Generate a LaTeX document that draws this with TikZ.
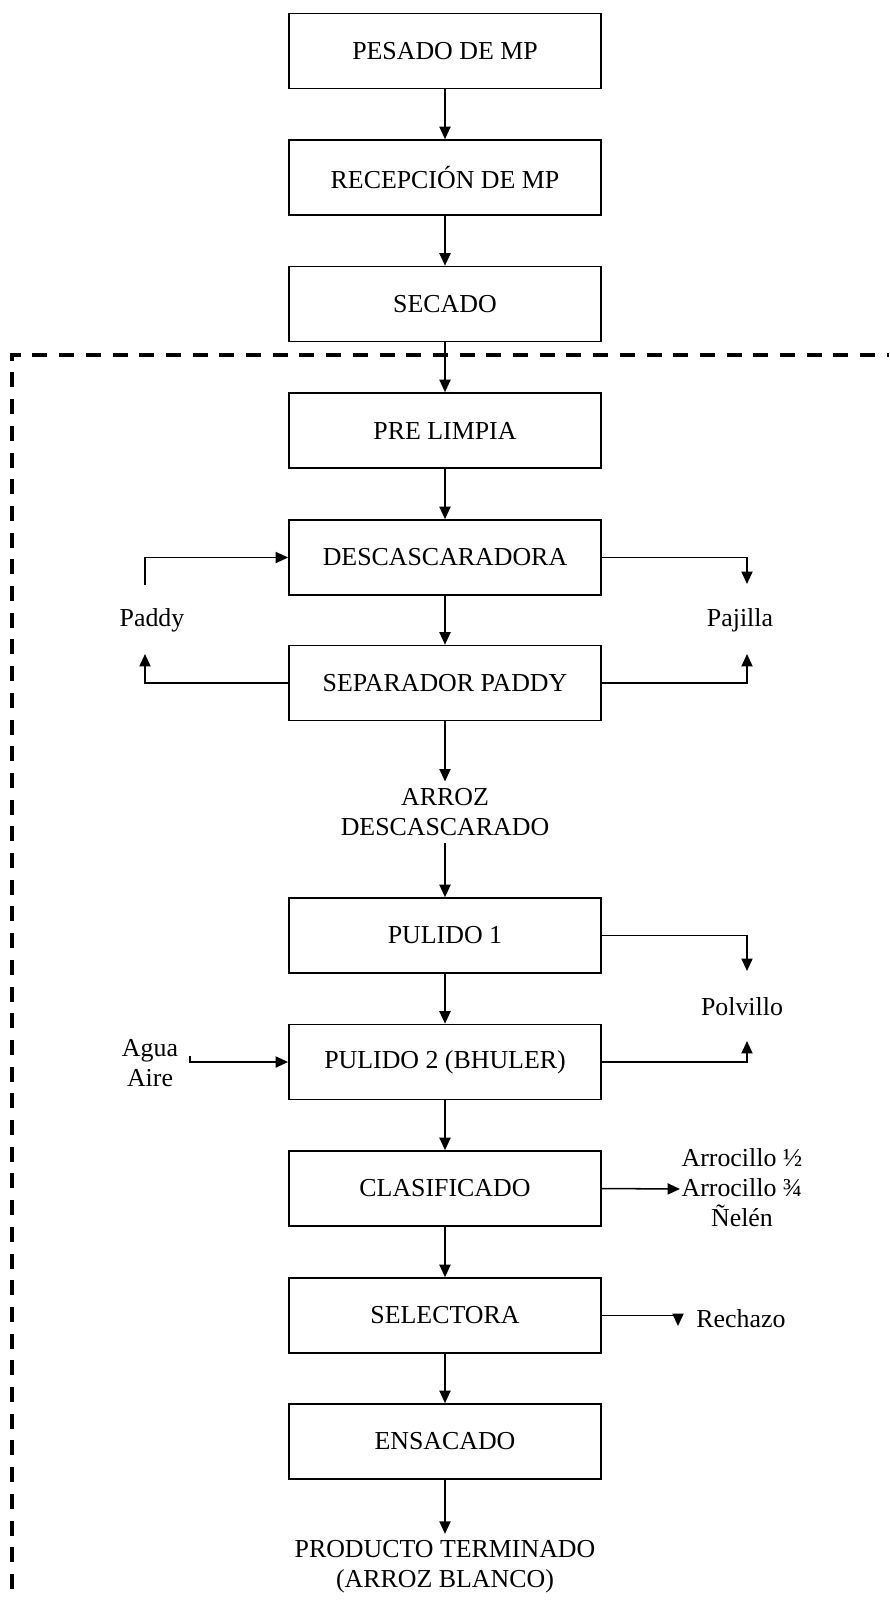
\documentclass[tikz,border=0pt]{standalone}
\usepackage{fontspec}
\setmainfont{Liberation Serif}
\usetikzlibrary{arrows.meta}
\begin{document}
\begin{tikzpicture}[x=0.5217pt,y=-0.5217pt,
  font=\fontsize{13.5}{15.7}\selectfont,
  proc/.style={draw,line width=0.9pt,minimum width=162.8pt,minimum height=39.1pt,inner sep=0pt},
  lbl/.style={align=center,inner sep=0pt},
  flowtxt/.style={align=center},
  flow/.style={line width=0.8pt,-{Triangle[length=6.5pt,width=5.8pt]}},
  boundary/.style={line width=1.7pt,dash pattern=on 7.83pt off 6.1pt}]
\useasboundingbox (0,0) rectangle (889,1600);

% process boundary (dashed corner)
\draw[boundary,dash phase=2.45pt] (10.4,355) -- (889,355);
\draw[boundary,dash phase=4.85pt] (12,355) -- (12,1600);

% main process steps
\node[proc] (pesado)  at (445,51)     {PESADO DE MP};
\node[proc] (recep)   at (445,177.5)  {RECEPCIÓN DE MP};
\node[proc] (secado)  at (445,304)    {SECADO};
\node[proc] (limpia)  at (445,430.5)  {PRE LIMPIA};
\node[proc] (desc)    at (445,557.5)  {DESCASCARADORA};
\node[proc] (sep)     at (445,683)    {SEPARADOR PADDY};
\node[flowtxt] (arroz) at (445,812)   {ARROZ\\DESCASCARADO};
\node[proc] (pul1)    at (445,935.5)  {PULIDO 1};
\node[proc] (pul2)    at (445,1062)   {PULIDO 2 (BHULER)};
\node[proc] (clas)    at (445,1188.5) {CLASIFICADO};
\node[proc] (selec)   at (445,1315.5) {SELECTORA};
\node[proc] (ensac)   at (445,1441.5) {ENSACADO};
\node[flowtxt] (prod) at (445,1567)   {PRODUCTO TERMINADO\\(ARROZ BLANCO)};

% side streams
\node[lbl] (paddy)   at (152,620)  {Paddy};
\node[lbl] (pajilla) at (740,620)  {Pajilla};
\node[lbl] (polv)    at (742,1007) {Polvillo};
\node[lbl] (agua)    at (150,1063) {Agua\\Aire};
\node[lbl] (arroc)   at (742,1188) {Arrocillo ½\\Arrocillo ¾\\Ñelén};
\node[lbl] (rech)    at (741,1319) {Rechazo};

\coordinate (paddyout) at (145,585);
\coordinate (paddyin)  at (145,654);
\coordinate (pajin1)   at (747,584);
\coordinate (pajin2)   at (747,654);
\coordinate (polin1)   at (747,971);
\coordinate (polin2)   at (747,1041);
\coordinate (aguaout)  at (190,1056);
\coordinate (arrocin)  at (680,1189);
\coordinate (rechin)   at (678,1326);

% main flow
\draw[flow] (pesado) -- (recep);
\draw[flow] (recep) -- (secado);
\draw[flow] (secado) -- (limpia);
\draw[flow] (limpia) -- (desc);
\draw[flow] (desc) -- (sep);
\draw[flow] (sep) -- (arroz);
\draw[flow] (arroz) -- (pul1);
\draw[flow] (pul1) -- (pul2);
\draw[flow] (pul2) -- (clas);
\draw[flow] (clas) -- (selec);
\draw[flow] (selec) -- (ensac);
\draw[flow] (ensac) -- (prod);

% recycle and by-products
\draw[flow] (paddyout) |- (desc.west);
\draw[flow] (sep.west) -| (paddyin);
\draw[flow] (desc.east) -| (pajin1);
\draw[flow] (sep.east) -| (pajin2);
\draw[flow] (pul1.east) -| (polin1);
\draw[flow] (pul2.east) -| (polin2);
\draw[flow] (aguaout) |- (pul2.west);
\draw[flow] (clas.east) -- (arrocin);
\draw[flow] (selec.east) -| (rechin);
\end{tikzpicture}
\end{document}
